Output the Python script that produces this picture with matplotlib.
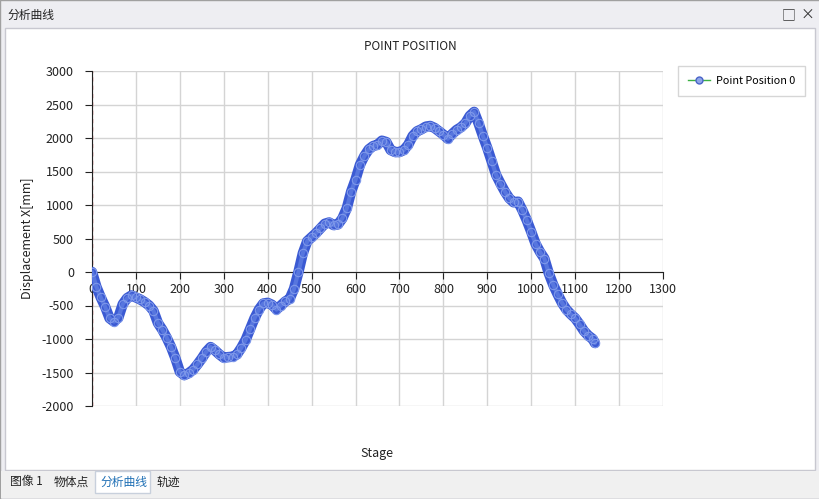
import numpy as np
import matplotlib.pyplot as plt
from matplotlib.lines import Line2D
from matplotlib.patches import Rectangle

plt.rcParams['font.family'] = ['Noto Sans CJK SC', 'DejaVu Sans']
plt.rcParams['axes.unicode_minus'] = False

# values, one every 10 stages
stage = [0, 10, 20, 30, 40, 50, 60, 70, 80, 90,
         100, 110, 120, 130, 140, 150, 160, 170, 180, 190,
         200, 210, 220, 230, 240, 250, 260, 270, 280, 290,
         300, 310, 320, 330, 340, 350, 360, 370, 380, 390,
         400, 410, 420, 430, 440, 450, 460, 470, 480, 490,
         500, 510, 520, 530, 540, 550, 560, 570, 580, 590,
         600, 610, 620, 630, 640, 650, 660, 670, 680, 690,
         700, 710, 720, 730, 740, 750, 760, 770, 780, 790,
         800, 810, 820, 830, 840, 850, 860, 870, 880, 890,
         900, 910, 920, 930, 940, 950, 960, 970, 980, 990,
         1000, 1010, 1020, 1030, 1040, 1050, 1060, 1070, 1080, 1090,
         1100, 1110, 1120, 1130, 1140, 1145]
disp = [0, -220, -380, -520, -690, -740, -680, -480, -390, -350,
        -380, -410, -450, -500, -580, -760, -860, -980, -1120, -1290,
        -1490, -1540, -1510, -1460, -1380, -1290, -1190, -1120, -1170, -1230,
        -1280, -1270, -1265, -1230, -1130, -1010, -850, -690, -560, -470,
        -460, -490, -560, -500, -440, -400, -250, 0, 280, 460,
        520, 580, 650, 720, 740, 700, 710, 800, 950, 1200,
        1380, 1600, 1730, 1830, 1880, 1900, 1960, 1940, 1820, 1790,
        1790, 1820, 1900, 2030, 2100, 2130, 2170, 2180, 2150, 2100,
        2050, 1990, 2060, 2120, 2160, 2220, 2330, 2390, 2220, 2030,
        1850, 1650, 1450, 1320, 1200, 1100, 1040, 1050, 920, 770,
        600, 420, 300, 200, -20, -190, -330, -460, -560, -630,
        -690, -780, -880, -950, -1000, -1060]

xticks = list(range(0, 1301, 100))
yticks = list(range(-2000, 3001, 500))

fig = plt.figure(figsize=[8.2, 4.99], dpi=100)
W, H = 820, 499

def box(x, y, w, h, fc, ec='none', lw=1.0):
    fig.patches.append(Rectangle((x / W, 1 - (y + h) / H), w / W, h / H,
                                 transform=fig.transFigure, fc=fc, ec=ec, lw=lw, zorder=-5))

# window chrome
box(0, 0, 820, 499, '#EEEEF2', '#A0A0A0')
box(5, 28, 810, 442, 'white', '#C8C8D0')
box(1, 471, 818, 27, '#F0F0F0')
box(95, 471, 55, 22, 'white', '#C8D0DC')
fig.text(7 / W, 1 - 15 / H, '分析曲线', fontsize=8.5, va='center', color='#222222')
fig.text(789 / W, 1 - 15 / H, '□', fontsize=10, va='center', ha='center', color='#333333')
fig.text(807 / W, 1 - 15 / H, '×', fontsize=10, va='center', ha='center', color='#333333')
for tx, lab, col in [(10, '图像 1', '#222222'), (54, '物体点', '#222222'),
                     (100, '分析曲线', '#1E6FB5'), (157, '轨迹', '#222222')]:
    fig.text(tx / W, 1 - 482 / H, lab, fontsize=8.5, va='center', color=col)

ax = fig.add_axes([92 / W, 1 - 406 / H, (663 - 92) / W, (406 - 71) / H])
ax.patch.set_alpha(0)
ax.plot(stage, disp, '-', color='#3B5AD3', lw=7.5, solid_capstyle='round',
        solid_joinstyle='round', zorder=3)
ax.plot(stage, disp, '-', color='#5776DE', lw=3, solid_capstyle='round',
        solid_joinstyle='round', zorder=4)
ax.plot(stage, disp, 'o', ms=6, mfc='none', mec='#7E98EA', mew=0.8, lw=0, zorder=5)

ax.set_xlim(0, 1300)
ax.set_ylim(-2000, 3000)
ax.set_xticks(xticks)
ax.set_yticks(yticks)
ax.grid(True, color='#D4D4D4', lw=1)
ax.set_axisbelow(True)
for s in ['top', 'right']:
    ax.spines[s].set_visible(False)
ax.spines['bottom'].set_position(('data', 0))
ax.spines['bottom'].set_color('#222222')
ax.spines['left'].set_color('#222222')
ax.axvline(0, color='#D04040', ls=(0, (3, 3)), lw=1, zorder=2)
ax.tick_params(axis='x', direction='out', length=5, labelsize=9, pad=3, colors='#222222')
ax.tick_params(axis='y', direction='out', length=5, labelsize=9, pad=8, colors='#222222')

fig.text(410 / W, 1 - 46 / H, 'POINT POSITION', fontsize=8.5, ha='center', va='center', color='#222222')
fig.text(377 / W, 1 - 453 / H, 'Stage', fontsize=9, ha='center', va='center', color='#222222')
fig.text(28 / W, 1 - 238 / H, 'Displacement X[mm]', fontsize=9, ha='center', va='center',
         rotation=90, color='#222222')

handle = Line2D([], [], color='#3CB043', lw=1, marker='o', ms=5, mfc='#8FA6E8', mec='#4A64C8')
leg = fig.legend([handle], ['Point Position 0'], loc='upper left',
                 bbox_to_anchor=(673 / W, 1 - 61 / H), fontsize=7.8, frameon=True,
                 fancybox=False, edgecolor='#CCCCCC', handlelength=2.0, borderpad=0.9,
                 handletextpad=0.6)
leg.get_frame().set_linewidth(1)

fig.savefig('out.png', dpi=100)
